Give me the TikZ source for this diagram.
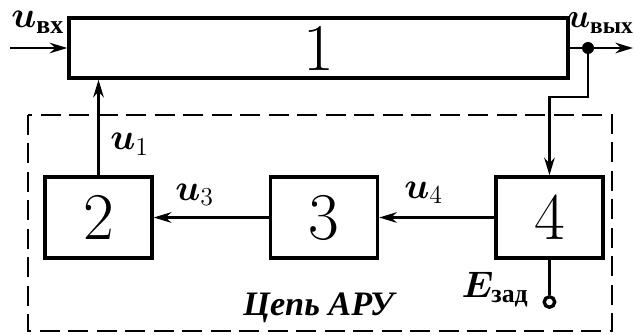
\RequirePackage{fix-cm}
\documentclass[tikz,border=0pt]{standalone}
\usepackage{fontspec}
\usepackage{amsmath}
\usepackage{bm}
\newfontfamily\cyr{Liberation Serif}
\usepackage{tikz}
\usetikzlibrary{positioning}
\usetikzlibrary{arrows.meta}

\tikzset{
  block/.style={draw, line width=2pt, inner sep=0pt, minimum width=2.14cm, minimum height=1.62cm, font=\fontsize{38}{40}\selectfont},
  conn/.style={line width=1.5pt},
  sig/.style={conn, -{Stealth[length=10pt,width=6pt]}},
  lbl/.style={inner sep=0pt, font=\fontsize{21}{24}\selectfont},
}

\begin{document}
\begin{tikzpicture}[x=0.02cm, y=-0.02cm]
    \useasboundingbox (0,0) rectangle (634,334);

    % blocks
    \node[block, minimum width=9.98cm, minimum height=1.2cm] (b1) at (318.5,48) {1};
    \node[block] (b2) at (98.5,217.5) {2};
    \node[block, right=2.3cm of b2] (b3) {3};
    \node[block, right=2.3cm of b3] (b4) {4};

    % AGC loop frame
    \draw[conn, dash pattern=on 0.4cm off 0.17cm] (28,115) rectangle (612,331);

    \coordinate (in) at (10,48);
    \coordinate (out) at (633,48);
    \node[circle, fill, inner sep=0pt, minimum size=0.24cm] (dot) at (588,48) {};
    \node[circle, draw, line width=1.9pt, fill=white, inner sep=0pt, minimum size=0.21cm] (ez) at (b4.south |- 0,302) {};

    \draw[sig] (in) -- (b1.west);
    \draw[conn] (b1.east) -- (dot);
    \draw[sig] (dot) -- (out);
    \draw[sig] (dot) -- ++(0,49) -| (b4.north);
    \draw[sig] (b4.west) -- (b3.east);
    \draw[sig] (b3.west) -- (b2.east);
    \draw[sig] (b2.north) -- (b2.north |- b1.south);
    \draw[conn] (b4.south) -- (ez);

    % labels
    \node[lbl, anchor=base west] (lin) at (11,28) {$\bm{u}_{\text{\cyr\bfseries вх}}$};
    \node[lbl, anchor=base east, font=\fontsize{19}{22}\selectfont] (lout) at (634,28) {$\bm{u}_{\text{\cyr\bfseries вых}}$};
    \node[lbl, anchor=base west] (l1) at (110,150) {$\bm{u}_1$};
    \node[lbl, anchor=base west] (l3) at (175,200) {$\bm{u}_3$};
    \node[lbl, anchor=base west] (l4) at (404,198) {$\bm{u}_4$};
    \node[lbl, anchor=base east] (lez) at (529,297) {$\bm{E}_{\text{\cyr\bfseries зад}}$};
    \node[anchor=base west, inner sep=0pt, font=\cyr\bfseries\itshape\fontsize{19.5}{22}\selectfont] (arc) at (243,315) {Цепь АРУ};
\end{tikzpicture}
\end{document}
